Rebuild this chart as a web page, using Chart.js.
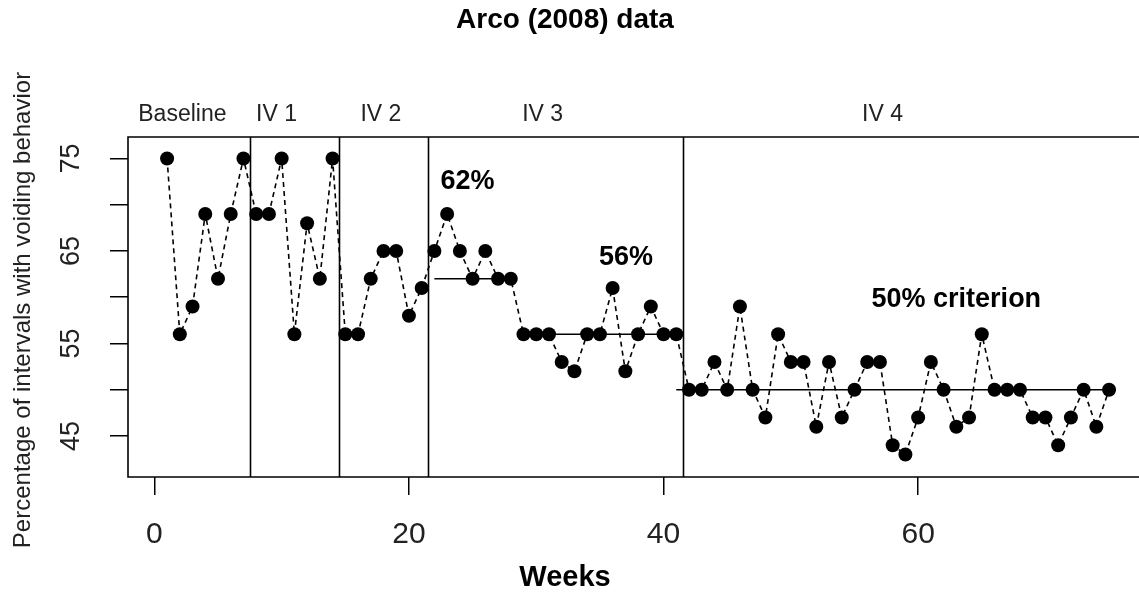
<!DOCTYPE html>
<html>
<head>
<meta charset="utf-8">
<script src="https://cdn.jsdelivr.net/npm/chart.js@4/dist/chart.umd.min.js"></script>
<style>
  body { margin: 0; background: #fff; }
  canvas { display: block; }
</style>
</head>
<body>
<canvas id="arcoChart" width="1139" height="596"></canvas>
<script>
// Weekly percentage of intervals with voiding behavior
const weeks = Array.from({ length: 75 }, (_, i) => i + 1)
const voiding = [
  75, 56, 59, 69, 62, 69, 75,
  69, 69, 75, 56, 68, 62, 75,
  56, 56, 62, 65, 65, 58, 61,
  65, 69, 65, 62, 65, 62, 62, 56, 56, 56, 53, 52, 56, 56, 61, 52, 56, 59, 56, 56,
  50, 50, 53, 50, 59, 50, 47, 56, 53, 53, 46, 53, 47, 50, 53, 53, 44, 43, 47, 53,
  50, 46, 47, 56, 50, 50, 50, 47, 47, 44, 47, 50, 46, 50
]

// Phase change lines and phase labels
const phaseBreaks = [7.5, 14.5, 21.5, 41.5]
const phaseNames = ["Baseline", "IV 1", "IV 2", "IV 3", "IV 4"]
const phaseLabelX = [2.2, 9.6, 17.8, 30.5, 57.2]

// Criterion lines
const criterionLevel = [62, 56, 50]
const criterionStart = [22, 29, 41]
const criterionEnd = [28, 41, 75]

// Criterion annotations
const noteText = ["62%", "56%", "50% criterion"]
const noteX = [24.6, 37.05, 63]
const noteY = [72.5, 64.3, 59.7]

// Axis ticks
const xTicks = [0, 20, 40, 60]
const yTicks = [45, 50, 55, 60, 65, 70, 75]
const yTickLabels = ["45", "", "55", "", "65", "", "75"]

const FONT = "'Liberation Sans', Arial, sans-serif"

const seriesData = weeks.map((w, i) => ({ x: w, y: voiding[i] }))

const criterionSets = criterionLevel.map((lvl, i) => ({
  data: [{ x: criterionStart[i], y: lvl }, { x: criterionEnd[i], y: lvl }],
  borderColor: "#000",
  borderWidth: 1.6,
  pointRadius: 0,
  fill: false,
}))

const decorations = {
  id: "decorations",
  beforeDatasetsDraw(chart) {
    const { ctx, chartArea, scales } = chart
    ctx.save()
    ctx.strokeStyle = "#000"
    ctx.lineWidth = 1.6
    // box (right edge is cut off in the original)
    ctx.beginPath()
    ctx.moveTo(chartArea.right + 2, chartArea.top)
    ctx.lineTo(chartArea.left, chartArea.top)
    ctx.lineTo(chartArea.left, chartArea.bottom)
    ctx.lineTo(chartArea.right + 2, chartArea.bottom)
    ctx.stroke()
    // phase lines
    phaseBreaks.forEach((b) => {
      const px = Math.round(scales.x.getPixelForValue(b)) + 0.5
      ctx.beginPath()
      ctx.moveTo(px, chartArea.top)
      ctx.lineTo(px, chartArea.bottom)
      ctx.stroke()
    })
    ctx.restore()
  },
  afterDraw(chart) {
    const { ctx, scales } = chart
    ctx.save()
    ctx.fillStyle = "#000"
    ctx.textAlign = "center"
    ctx.textBaseline = "middle"

    // title
    ctx.font = "bold 28px " + FONT
    ctx.fillText("Arco (2008) data", 565, 20)

    // x axis title
    ctx.font = "bold 29px " + FONT
    ctx.fillText("Weeks", 565, 578)

    // y axis title
    ctx.save()
    ctx.translate(23, 310)
    ctx.rotate(-Math.PI / 2)
    ctx.font = "24px " + FONT
    ctx.fillStyle = "#222"
    ctx.fillText("Percentage of intervals with voiding behavior", 0, 0)
    ctx.restore()

    // x tick labels
    ctx.font = "30px " + FONT
    ctx.fillStyle = "#222"
    xTicks.forEach((t) => {
      ctx.fillText(String(t), scales.x.getPixelForValue(t), 535)
    })

    // y tick labels (parallel to the axis)
    ctx.font = "27px " + FONT
    yTicks.forEach((t, i) => {
      if (!yTickLabels[i]) return
      ctx.save()
      ctx.translate(72, scales.y.getPixelForValue(t))
      ctx.rotate(-Math.PI / 2)
      ctx.fillText(yTickLabels[i], 0, 0)
      ctx.restore()
    })

    // phase labels above the plot
    ctx.font = "23px " + FONT
    phaseNames.forEach((name, i) => {
      ctx.fillText(name, scales.x.getPixelForValue(phaseLabelX[i]), 115)
    })

    // criterion notes
    ctx.font = "bold 27px " + FONT
    ctx.fillStyle = "#000"
    noteText.forEach((txt, i) => {
      ctx.fillText(txt, scales.x.getPixelForValue(noteX[i]), scales.y.getPixelForValue(noteY[i]))
    })
    ctx.restore()
  },
}

const ctx = document.getElementById("arcoChart").getContext("2d")

new Chart(ctx, {
  type: "line",
  data: {
    datasets: [
      {
        data: seriesData,
        borderColor: "#000",
        borderWidth: 1.6,
        borderDash: [5, 4],
        pointRadius: 7,
        pointBackgroundColor: "#000",
        pointBorderWidth: 0,
        fill: false,
      },
      ...criterionSets,
    ],
  },
  options: {
    responsive: false,
    animation: false,
    devicePixelRatio: 1,
    layout: { autoPadding: false, padding: { top: 137, left: 0, right: 0, bottom: 0 } },
    plugins: {
      legend: { display: false },
      tooltip: { enabled: false },
      title: { display: false },
    },
    scales: {
      x: {
        type: "linear",
        min: -2.07,
        max: 77.35,
        afterFit: (scale) => { scale.height = 119 },
        ticks: { display: false, stepSize: 20, includeBounds: false },
        grid: { drawOnChartArea: false, drawTicks: true, tickLength: 18, color: "#000", lineWidth: 1.5 },
        border: { display: false },
      },
      y: {
        min: 40.56,
        max: 77.33,
        afterFit: (scale) => { scale.width = 128 },
        ticks: { display: false, stepSize: 5, includeBounds: false },
        grid: { drawOnChartArea: false, drawTicks: true, tickLength: 18, color: "#000", lineWidth: 1.5 },
        border: { display: false },
      },
    },
  },
  plugins: [decorations],
})
</script>
</body>
</html>
